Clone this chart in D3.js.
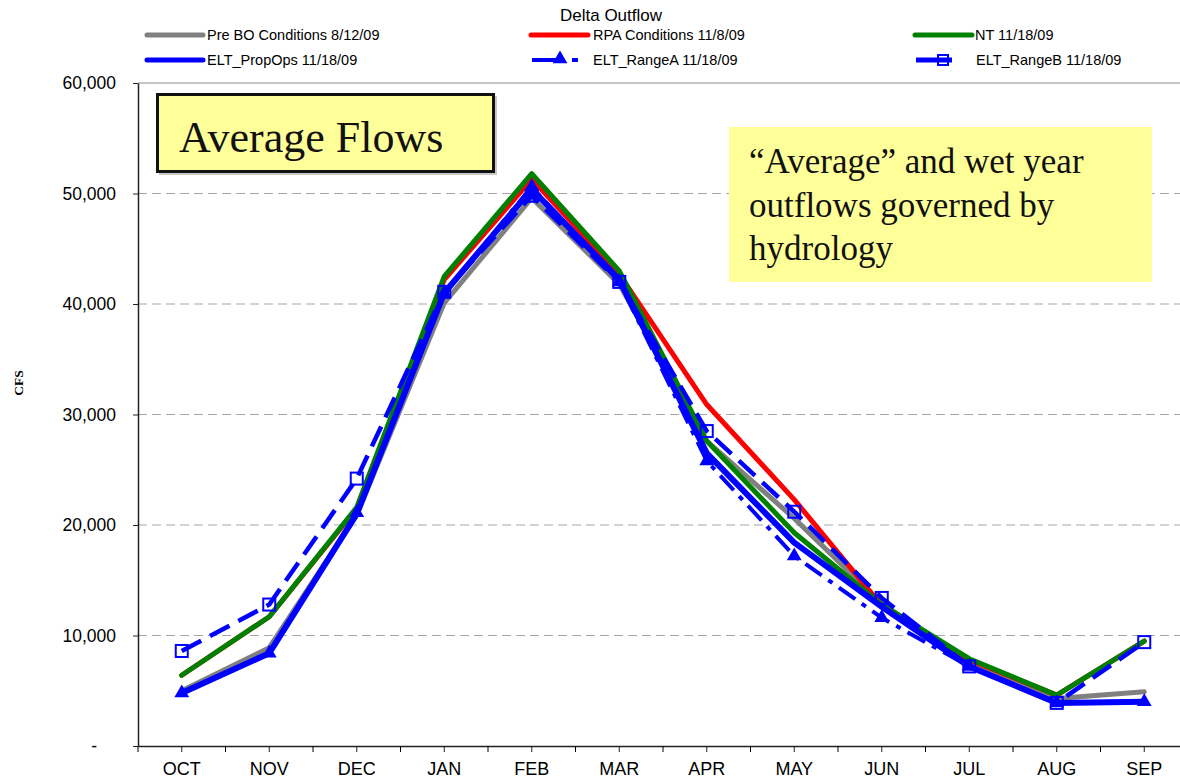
<!DOCTYPE html>
<html>
<head>
<meta charset="utf-8">
<script src="https://cdnjs.cloudflare.com/ajax/libs/d3/7.8.5/d3.min.js"></script>
<style>
body { margin: 0; background: #fff; }
svg { display: block; font-family: Arial, "Liberation Sans", sans-serif; }
</style>
</head>
<body>
<div id="chart"></div>
<script>
// months on the x axis
var months = ["OCT", "NOV", "DEC", "JAN", "FEB", "MAR", "APR", "MAY", "JUN", "JUL", "AUG", "SEP"];

// delta outflow, cfs
var preBO   = [5000, 8900, 20900, 40100, 49600, 41800, 27600, 20600, 12900, 7600, 4300, 4900];
var rpa     = [6400, 11700, 21500, 42200, 51300, 42700, 30900, 22300, 12700, 7800, 4600, 9500];
var nt      = [6400, 11700, 21600, 42500, 51800, 43000, 27600, 19300, 12800, 7900, 4600, 9500];
var propOps = [4800, 8400, 21000, 41000, 50400, 42200, 26500, 18400, 12600, 7200, 3900, 4000];
var rangeA  = [4800, 8400, 21100, 41000, 50600, 42000, 25800, 17200, 11600, 7200, 3900, 4000];
var rangeB  = [8600, 12800, 24200, 41100, 49800, 42000, 28500, 21200, 13400, 7200, 3900, 9400];

var seriesNames = ["Pre BO Conditions 8/12/09", "RPA Conditions 11/8/09", "NT 11/18/09",
                   "ELT_PropOps 11/18/09", "ELT_RangeA 11/18/09", "ELT_RangeB 11/18/09"];

var yTicks = [0, 10000, 20000, 30000, 40000, 50000, 60000];

var W = 1180, H = 784;

var svg = d3.select("#chart").append("svg")
    .attr("width", W)
    .attr("height", H);

var x = d3.scaleBand().domain(months).range([138, 1188]).padding(0);
var y = d3.scaleLinear().domain([0, 60000]).range([746, 83]);
var cx = function(i) { return x(months[i]) + x.bandwidth() / 2; };

// dashed gridlines
svg.append("g").selectAll("line")
   .data(yTicks.filter(function(d) { return d > 0 && d < 60000; }))
   .enter().append("line")
   .attr("x1", 138).attr("x2", 1188)
   .attr("y1", function(d) { return y(d); })
   .attr("y2", function(d) { return y(d); })
   .attr("stroke", "#a6a6a6")
   .attr("stroke-width", 1)
   .attr("stroke-dasharray", "9,5");

// plot area top border
svg.append("line")
   .attr("x1", 138).attr("x2", 1188)
   .attr("y1", y(60000)).attr("y2", y(60000))
   .attr("stroke", "#8c8c8c");

// y axis
var yAxis = d3.axisLeft(y)
    .tickValues(yTicks)
    .tickSize(5)
    .tickSizeOuter(0)
    .tickPadding(22)
    .tickFormat(function(d) { return d === 0 ? "-" : d3.format(",")(d); });

var gy = svg.append("g").attr("transform", "translate(138,0)").call(yAxis);
gy.selectAll("text").attr("font-size", "17.5px").attr("fill", "#000")
  .attr("font-family", "Arial, 'Liberation Sans', sans-serif")
  .attr("x", function(d) { return d === 0 ? -41 : -22; });

// x axis, ticks at the centres and the category boundaries
var xAxis = d3.axisBottom(x).tickSize(6).tickSizeOuter(0).tickPadding(10);
var gx = svg.append("g").attr("transform", "translate(0,746)").call(xAxis);
gx.selectAll("text").attr("font-size", "18px").attr("fill", "#000")
  .attr("font-family", "Arial, 'Liberation Sans', sans-serif");
gx.selectAll(".bound").data(months).enter().append("line")
  .attr("class", "bound")
  .attr("x1", function(d) { return x(d); })
  .attr("x2", function(d) { return x(d); })
  .attr("y1", 0).attr("y2", 6)
  .attr("stroke", "#000");

[gx, gy].forEach(function(g) {
    g.select(".domain").attr("stroke", "#222").attr("stroke-width", 1.5);
    g.selectAll(".tick line").attr("stroke", "#222");
});

// y title
svg.append("text")
   .attr("transform", "translate(23,383) rotate(-90)")
   .attr("text-anchor", "middle")
   .attr("font-family", "'Liberation Serif', serif")
   .attr("font-weight", "bold")
   .attr("font-size", "13.5px")
   .text("CFS");

// yellow call-out boxes
svg.append("rect").attr("x", 159).attr("y", 96).attr("width", 338).attr("height", 79).attr("fill", "#c8c8c8");
svg.append("rect")
   .attr("x", 157.5).attr("y", 94.5).attr("width", 336).attr("height", 77)
   .attr("fill", "#ffff99").attr("stroke", "#111").attr("stroke-width", 3);
svg.append("text")
   .attr("x", 179).attr("y", 152)
   .attr("font-family", "'Liberation Serif', 'DejaVu Serif', serif")
   .attr("font-size", "44px")
   .attr("fill", "#111")
   .text("Average Flows");

svg.append("rect")
   .attr("x", 729).attr("y", 127).attr("width", 423).attr("height", 155)
   .attr("fill", "#ffff99");
var note = ["\u201CAverage\u201D and wet year", "outflows governed by", "hydrology"];
svg.append("g").selectAll("text").data(note).enter().append("text")
   .attr("x", 749)
   .attr("y", function(d, i) { return 173 + i * 43.5; })
   .attr("font-family", "'Liberation Serif', 'DejaVu Serif', serif")
   .attr("font-size", "35px")
   .attr("fill", "#111")
   .text(function(d) { return d; });

// series
var series = [
    { name: seriesNames[0], values: preBO,   color: "#808080", width: 5, dash: null },
    { name: seriesNames[1], values: rpa,     color: "#ff0000", width: 5, dash: null },
    { name: seriesNames[2], values: nt,      color: "#008000", width: 5, dash: null },
    { name: seriesNames[3], values: propOps, color: "#0000ff", width: 6, dash: null },
    { name: seriesNames[4], values: rangeA,  color: "#0000ff", width: 4, dash: "20,8,5,8", marker: "triangle" },
    { name: seriesNames[5], values: rangeB,  color: "#0000ff", width: 4.5, dash: "22,10", marker: "square" }
];

var line = d3.line()
    .x(function(d, i) { return cx(i); })
    .y(function(d) { return y(d); });

var tri = d3.symbol().type(d3.symbolTriangle).size(95);

series.forEach(function(s) {
    var p = svg.append("path")
        .datum(s.values)
        .attr("d", line)
        .attr("fill", "none")
        .attr("stroke", s.color)
        .attr("stroke-width", s.width)
        .attr("stroke-linejoin", "round")
        .attr("stroke-linecap", s.dash ? "butt" : "round");
    if (s.dash) p.attr("stroke-dasharray", s.dash);

    if (s.marker === "triangle") {
        svg.append("g").selectAll("path").data(s.values).enter().append("path")
           .attr("d", tri)
           .attr("transform", function(d, i) { return "translate(" + cx(i) + "," + y(d) + ")"; })
           .attr("fill", s.color);
    }
    if (s.marker === "square") {
        svg.append("g").selectAll("rect").data(s.values).enter().append("rect")
           .attr("x", function(d, i) { return cx(i) - 6; })
           .attr("y", function(d) { return y(d) - 6; })
           .attr("width", 12).attr("height", 12)
           .attr("fill", "none")
           .attr("stroke", s.color)
           .attr("stroke-width", 2);
    }
});

// legend
svg.append("text")
   .attr("x", 611).attr("y", 21)
   .attr("text-anchor", "middle")
   .attr("font-size", "17px")
   .text("Delta Outflow");

var legendPos = [
    { x1: 147, x2: 203, tx: 207, y: 35 },
    { x1: 531, x2: 588, tx: 593, y: 35 },
    { x1: 915, x2: 972, tx: 975, y: 35 },
    { x1: 147, x2: 203, tx: 207, y: 60 },
    { x1: 532, x2: 578, tx: 593, y: 60 },
    { x1: 916, x2: 952, tx: 976, y: 60 }
];

var leg = svg.append("g").selectAll("g").data(series).enter().append("g");

leg.each(function(s, i) {
    var g = d3.select(this), p = legendPos[i];
    if (s.marker === "triangle") {
        g.append("line").attr("x1", p.x1).attr("x2", p.x1 + 28).attr("y1", p.y).attr("y2", p.y)
         .attr("stroke", s.color).attr("stroke-width", 4);
        g.append("line").attr("x1", p.x2 - 6).attr("x2", p.x2).attr("y1", p.y).attr("y2", p.y)
         .attr("stroke", s.color).attr("stroke-width", 4);
        g.append("path").attr("d", tri).attr("transform", "translate(" + (p.x1 + 28) + "," + (p.y - 1) + ")")
         .attr("fill", s.color);
    } else if (s.marker === "square") {
        g.append("line").attr("x1", p.x1).attr("x2", p.x2).attr("y1", p.y).attr("y2", p.y)
         .attr("stroke", s.color).attr("stroke-width", 5);
        g.append("rect").attr("x", p.x1 + 22).attr("y", p.y - 5).attr("width", 10).attr("height", 10)
         .attr("fill", "none").attr("stroke", s.color).attr("stroke-width", 2);
    } else {
        g.append("line").attr("x1", p.x1).attr("x2", p.x2).attr("y1", p.y).attr("y2", p.y)
         .attr("stroke", s.color).attr("stroke-width", 5).attr("stroke-linecap", "round");
    }
    g.append("text").attr("x", p.tx).attr("y", p.y + 5)
     .attr("font-size", "14.5px")
     .text(s.name);
});
</script>
</body>
</html>
